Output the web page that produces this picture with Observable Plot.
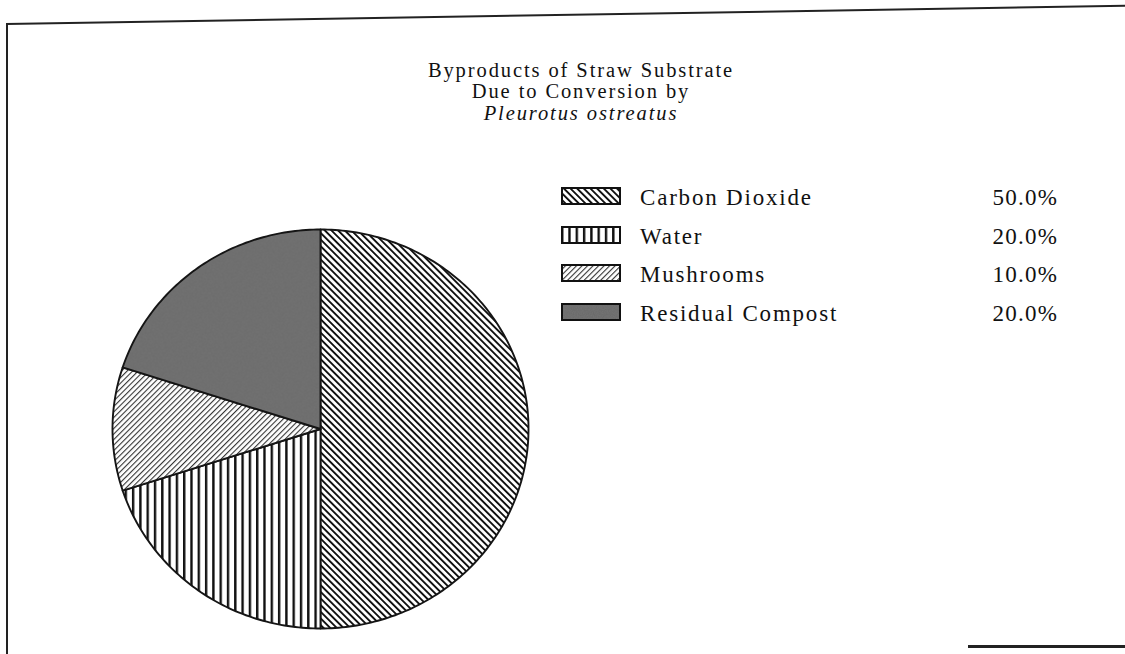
<!DOCTYPE html>
<html>
<head>
<meta charset="utf-8">
<script src="https://cdn.jsdelivr.net/npm/d3@7"></script>
<script src="https://cdn.jsdelivr.net/npm/@observablehq/plot@0.6"></script>
<style>
  html, body { margin: 0; padding: 0; background: #fff; }
  #page { position: relative; width: 1125px; height: 654px; overflow: hidden; background: #fff;
          font-family: "Liberation Serif", "DejaVu Serif", serif; color: #111; }
  #chart { position: absolute; left: 0; top: 0; }
  .title { position: absolute; left: 381px; width: 400px; text-align: center; font-size: 20.5px;
           line-height: 23px; letter-spacing: 1.9px; white-space: nowrap; }
  .lg { position: absolute; font-size: 23px; line-height: 23px; letter-spacing: 1.8px; white-space: nowrap; }
  .pc { letter-spacing: 1.3px; }
  .sw { position: absolute; width: 60px; height: 18px; }
  .frame { position: absolute; background: #222; }
</style>
</head>
<body>
<svg width="0" height="0" style="position:absolute">
  <defs>
    <pattern id="pat-co2" patternUnits="userSpaceOnUse" width="4.7" height="10" patternTransform="rotate(-45)">
      <rect width="4.7" height="10" fill="#fff"/>
      <rect x="0" y="0" width="1.9" height="10" fill="#111"/>
    </pattern>
    <pattern id="pat-water" patternUnits="userSpaceOnUse" width="7.3" height="10">
      <rect width="7.3" height="10" fill="#fff"/>
      <rect x="0" y="0" width="2.4" height="10" fill="#111"/>
    </pattern>
    <pattern id="pat-mush" patternUnits="userSpaceOnUse" width="3.9" height="10" patternTransform="rotate(45)">
      <rect width="3.9" height="10" fill="#fff"/>
      <rect x="0" y="0" width="1.1" height="10" fill="#333"/>
    </pattern>
    <filter id="grain" x="0" y="0" width="100%" height="100%">
      <feTurbulence type="fractalNoise" baseFrequency="0.8" numOctaves="2" seed="3" result="n"/>
      <feColorMatrix in="n" type="matrix" values="0 0 0 0 0.3  0 0 0 0 0.3  0 0 0 0 0.3  0 0 0 -0.8 0.7" />
    </filter>
    <pattern id="pat-compost" patternUnits="userSpaceOnUse" width="60" height="60">
      <rect width="60" height="60" fill="#6a6a6a"/>
      <rect width="60" height="60" fill="#555" opacity="0.35" filter="url(#grain)"/>
    </pattern>
  </defs>
</svg>
<div id="page"></div>
<script>
// ---- data ----
const categories = ["Carbon Dioxide", "Water", "Mushrooms", "Residual Compost"];
const values = [50, 20, 10, 20];
const percentLabels = ["50.0%", "20.0%", "10.0%", "20.0%"];
const fills = ["url(#pat-co2)", "url(#pat-water)", "url(#pat-mush)", "url(#pat-compost)"];
const titleLines = ["Byproducts of Straw Substrate", "Due to Conversion by", "Pleurotus ostreatus"];

(function () {
const page = document.getElementById("page");

// ---- pie slices as polygons in data space ----
const total = d3.sum(values);
let acc = 0;
const slices = values.map((v, i) => {
  const a0 = acc / total * 2 * Math.PI;
  acc += v;
  const a1 = acc / total * 2 * Math.PI;
  const n = Math.max(2, Math.ceil((a1 - a0) / (Math.PI / 180)));
  const pts = [{x: 0, y: 0}];
  for (let k = 0; k <= n; k++) {
    const a = a0 + (a1 - a0) * k / n;
    pts.push({x: Math.sin(a), y: Math.cos(a)});
  }
  return {name: categories[i], fill: fills[i], pts};
});

const chart = Plot.plot({
  width: 1125,
  height: 654,
  marginLeft: 112,
  marginRight: 597,
  marginTop: 229,
  marginBottom: 26,
  x: {domain: [-1, 1], axis: null},
  y: {domain: [-1, 1], axis: null},
  style: {background: "transparent"},
  marks: slices.map(s => Plot.line(s.pts, {
    x: "x", y: "y", curve: "linear-closed",
    fill: s.fill, stroke: "#151515", strokeWidth: 1.9
  }))
});
chart.id = "chart";
page.appendChild(chart);

// ---- title ----
const titleBaselines = [77, 98.5, 120];
titleLines.forEach((t, i) => {
  const d = document.createElement("div");
  d.className = "title";
  d.style.top = (titleBaselines[i] - 18.5) + "px";
  if (i === 2) d.style.fontStyle = "italic";
  d.textContent = t;
  page.appendChild(d);
});

// ---- legend ----
categories.forEach((c, i) => {
  const base = 205 + i * 38.7;
  const sw = document.createElementNS("http://www.w3.org/2000/svg", "svg");
  sw.setAttribute("class", "sw");
  sw.setAttribute("width", 60); sw.setAttribute("height", 18);
  sw.style.left = "561px";
  sw.style.top = (base - 18) + "px";
  sw.innerHTML = `<rect x="1" y="1" width="58" height="16" fill="${fills[i]}" stroke="#111" stroke-width="2"/>`;
  page.appendChild(sw);

  const t = document.createElement("div");
  t.className = "lg";
  t.style.left = "640px";
  t.style.top = (base - 19.2) + "px";
  t.textContent = c;
  page.appendChild(t);

  const p = document.createElement("div");
  p.className = "lg pc";
  p.style.right = (1125 - 1057 - 1.3) + "px";
  p.style.top = (base - 19.2) + "px";
  p.textContent = percentLabels[i];
  page.appendChild(p);
});

// ---- scanned page frame ----
const fTop = document.createElement("div");
fTop.className = "frame";
fTop.style.cssText += "left:6px;top:23px;width:1125px;height:2px;transform-origin:0 0;transform:rotate(-0.93deg);";
page.appendChild(fTop);
const fLeft = document.createElement("div");
fLeft.className = "frame";
fLeft.style.cssText += "left:6px;top:24px;width:2px;height:640px;";
page.appendChild(fLeft);
const fBot = document.createElement("div");
fBot.className = "frame";
fBot.style.cssText += "left:968px;top:645px;width:170px;height:3px;";
page.appendChild(fBot);
})();
</script>
</body>
</html>
